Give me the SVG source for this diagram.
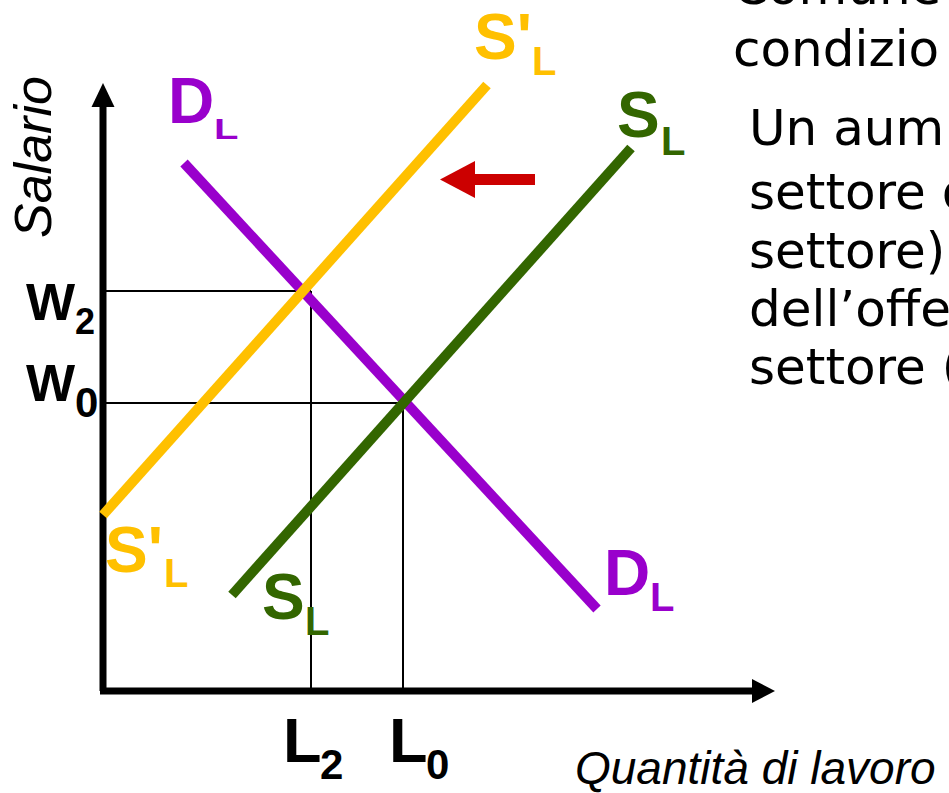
<svg xmlns="http://www.w3.org/2000/svg" width="949" height="793" viewBox="0 0 949 793">
<style>
.lbl{font-family:"Liberation Sans",Arial,sans-serif;font-weight:bold}
.sub{font-family:"Liberation Sans",Arial,sans-serif;font-weight:bold;font-size:40px}
.ax{font-family:"Liberation Sans",Arial,sans-serif;font-style:italic}
.body{font-family:"DejaVu Sans","Liberation Sans",sans-serif;font-size:50px;fill:#000}
.guide{stroke:#000;stroke-width:2;fill:none}
.curve{stroke-width:10;fill:none}
.purple{fill:#9900CC}
.green{fill:#336600}
.orange{fill:#FFC000}
</style>
<rect width="949" height="793" fill="#fff"/>
<g id="text-right" class="body">
<text x="733" y="4">Comune</text>
<text x="733" y="66">condizio</text>
<text x="749" y="145">Un aum</text>
<text x="749" y="209">settore d</text>
<text x="749" y="268">settore)</text>
<text x="749" y="326">dell’offe</text>
<text x="749" y="384">settore (</text>
</g>
<g id="guides">
<line class="guide" x1="103" y1="291" x2="311" y2="291"/>
<line class="guide" x1="311" y1="291" x2="311" y2="691"/>
<line class="guide" x1="103" y1="403" x2="407" y2="403"/>
<line class="guide" x1="403" y1="403" x2="403" y2="691"/>
</g>
<g id="axes">
<line x1="103" y1="691" x2="103" y2="104" stroke="#000" stroke-width="7"/>
<polygon points="103,83 91.5,107 114.5,107" fill="#000"/>
<line x1="100" y1="691" x2="754" y2="691" stroke="#000" stroke-width="7"/>
<polygon points="775,691 752,679 752,703" fill="#000"/>
<text class="ax" font-size="52" transform="translate(51,238) rotate(-90)">Salario</text>
<text class="ax" font-size="46" x="575" y="784">Quantità di lavoro</text>
</g>
<g id="curve-DL">
<line class="curve" stroke="#9900CC" x1="184" y1="163" x2="597" y2="609"/>
</g>
<g id="curve-SL">
<line class="curve" stroke="#336600" x1="232" y1="595" x2="631" y2="148"/>
</g>
<g id="curve-S1L">
<line class="curve" stroke="#FFC000" x1="103" y1="515" x2="487" y2="85"/>
</g>
<g id="shift-arrow">
<rect x="470" y="174" width="65" height="11" fill="#CC0000"/>
<polygon points="440,179.5 475,161 475,198" fill="#CC0000"/>
</g>
<g id="label-DL-top" class="purple">
<text class="lbl" font-size="64" x="168" y="123">D</text>
<text class="sub" transform="translate(214,139) scale(1,0.75)">L</text>
</g>
<g id="label-DL-bottom" class="purple">
<text class="lbl" font-size="64" x="604" y="595">D</text>
<text class="sub" x="650" y="611">L</text>
</g>
<g id="label-SL-top" class="green">
<text class="lbl" font-size="64" x="617" y="137">S</text>
<text class="sub" x="661" y="155">L</text>
</g>
<g id="label-SL-bottom" class="green">
<text class="lbl" font-size="64" x="262" y="619">S</text>
<text class="sub" x="305" y="635">L</text>
</g>
<g id="label-S1L-top" class="orange">
<text class="lbl" font-size="64" x="474" y="59">S'</text>
<text class="sub" x="532" y="75">L</text>
</g>
<g id="label-S1L-bottom" class="orange">
<text class="lbl" font-size="64" x="105" y="572">S'</text>
<text class="sub" x="164" y="587">L</text>
</g>
<g id="label-W2">
<text class="lbl" font-size="52" x="26" y="320">W</text>
<text class="lbl" font-size="36" x="75" y="334">2</text>
</g>
<g id="label-W0">
<text class="lbl" font-size="52" x="26" y="401">W</text>
<text class="lbl" font-size="42" x="75" y="417">0</text>
</g>
<g id="label-L2">
<text class="lbl" font-size="63" x="283" y="762">L</text>
<text class="lbl" font-size="42" x="320" y="779">2</text>
</g>
<g id="label-L0">
<text class="lbl" font-size="63" x="389" y="762">L</text>
<text class="lbl" font-size="42" x="426" y="779">0</text>
</g>
</svg>
